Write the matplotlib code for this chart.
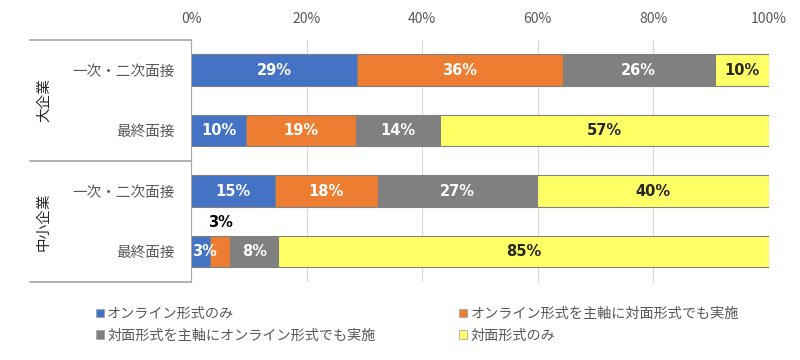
import numpy as np
import matplotlib
matplotlib.use('Agg')
import matplotlib.pyplot as plt
import matplotlib.transforms as mtransforms
from matplotlib.patches import Patch

plt.rcParams['font.family'] = ['Noto Sans CJK JP', 'DejaVu Sans']

# data
rows = ['一次・二次面接', '最終面接', '一次・二次面接', '最終面接']
groups = ['大企業', '中小企業']
series = ['オンライン形式のみ', 'オンライン形式を主軸に対面形式でも実施',
          '対面形式を主軸にオンライン形式でも実施', '対面形式のみ']
online_only = [28.7, 9.5, 14.5, 3.3]
online_main = [35.6, 19.0, 17.8, 3.5]
face_main = [26.3, 14.5, 27.5, 8.3]
face_only = [9.4, 57.0, 40.2, 84.9]
labels = [
    ['29%', '36%', '26%', '10%'],
    ['10%', '19%', '14%', '57%'],
    ['15%', '18%', '27%', '40%'],
    ['3%', '3%', '8%', '85%'],
]

colors = ['#4472C4', '#ED7D31', '#808080', '#FFFF66']
text_colors = ['white', 'white', 'white', '#262626']
grey = '#595959'

fig = plt.figure(figsize=(8, 3.6), dpi=100)
ax = fig.add_axes([0.239, 0.217, 0.722, 0.672])

data = np.array([online_only, online_main, face_main, face_only])
y = np.arange(len(rows))
left = np.zeros(len(rows))
for k in range(4):
    ax.barh(y, data[k], left=left, height=0.52, color=colors[k],
            edgecolor='#808080', linewidth=0.8, zorder=3)
    for i in range(len(rows)):
        cx = left[i] + data[k][i] / 2
        if i == 3 and k == 1:
            # small segment: label above the bar
            ax.text(cx, y[i] - 0.36, labels[i][k], ha='center', va='bottom',
                    fontsize=10.5, weight='bold', color='black',
                    family='DejaVu Sans', zorder=4)
        elif i == 3 and k == 0:
            # narrow first segment: label starts at the bar start
            ax.text(left[i] + 0.2, y[i], labels[i][k], ha='left', va='center',
                    fontsize=10.5, weight='bold', color=text_colors[k],
                    family='DejaVu Sans', zorder=4)
        else:
            ax.text(cx, y[i], labels[i][k], ha='center', va='center',
                    fontsize=10.5, weight='bold', color=text_colors[k],
                    family='DejaVu Sans', zorder=4)
    left = left + data[k]

ax.set_xlim(0, 100)
ax.set_ylim(3.5, -0.5)
ax.xaxis.tick_top()
ax.set_xticks(np.arange(0, 101, 20))
ax.set_xticklabels([f'{v}%' for v in range(0, 101, 20)], fontsize=10, color=grey)
ax.set_yticks(y)
ax.set_yticklabels(rows, fontsize=10.5, color=grey)
ax.tick_params(axis='y', length=0, pad=11.5)
ax.tick_params(axis='x', length=0, pad=10)
ax.grid(True, axis='x', color='#d9d9d9', linewidth=0.8, zorder=0)
for s in ['top', 'right', 'bottom']:
    ax.spines[s].set_visible(False)
ax.spines['left'].set_color('#a6a6a6')
ax.spines['left'].set_zorder(5)

# group separators and labels
trans = mtransforms.blended_transform_factory(ax.transAxes, ax.transData)
for yy in [-0.5, 1.5, 3.5]:
    ax.plot([-0.2785, 0], [yy, yy], transform=trans, color='#a6a6a6',
            linewidth=1.2, clip_on=False)
for g, yy in zip(groups, [0.5, 2.5]):
    ax.text(-0.255, yy, g, transform=trans, rotation=90, ha='center',
            va='center', fontsize=10.5, color='#262626')

handles = [Patch(facecolor=c, edgecolor='#a6a6a6', linewidth=0.6) for c in colors]
order = [0, 2, 1, 3]
fig.legend([handles[i] for i in order], [series[i] for i in order],
           loc='upper left', bbox_to_anchor=(0.111, 0.167), ncol=2,
           frameon=False, fontsize=10.2, labelcolor=grey,
           handlelength=0.55, handleheight=0.55, handletextpad=0.25,
           columnspacing=5.9, labelspacing=0.55, borderpad=0)

fig.savefig('out.png', dpi=100)
